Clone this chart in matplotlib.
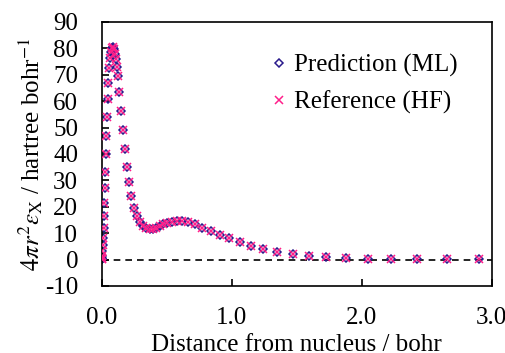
import matplotlib
matplotlib.use("Agg")
import matplotlib.pyplot as plt

plt.rcParams['font.family'] = ['Liberation Serif', 'DejaVu Serif']
plt.rcParams['mathtext.fontset'] = 'stix'
plt.rcParams['axes.unicode_minus'] = False

# radial distance (bohr) and 4*pi*r^2*eps_X (hartree/bohr)
distance = [0.0005, 0.001, 0.002, 0.003, 0.005, 0.008, 0.013, 0.016, 0.018, 0.020,
            0.025, 0.028, 0.033, 0.036, 0.041, 0.046, 0.051, 0.056, 0.064, 0.072,
            0.078, 0.085, 0.092, 0.100, 0.107, 0.115, 0.123, 0.133, 0.148, 0.161,
            0.176, 0.192, 0.207, 0.225, 0.247, 0.270, 0.292, 0.318, 0.343, 0.368,
            0.393, 0.418, 0.445, 0.475, 0.505, 0.538, 0.577, 0.620, 0.660, 0.716,
            0.775, 0.839, 0.908, 0.982, 1.061, 1.148, 1.240, 1.350, 1.468, 1.591,
            1.724, 1.877, 2.046, 2.225, 2.427, 2.652, 2.903]
ref_hf = [0.05, 0.2, 0.6, 1.4, 3.2, 5.5, 8.3, 12.0, 16.4, 21.4,
          27.0, 33.0, 39.8, 46.8, 53.9, 60.7, 66.9, 72.4, 76.3, 78.5,
          80.0, 80.6, 79.8, 78.0, 76.0, 73.0, 69.6, 63.3, 56.4, 49.1,
          41.9, 35.2, 29.2, 23.9, 19.5, 16.3, 14.1, 12.6, 11.9, 11.5,
          11.5, 11.9, 12.6, 13.3, 13.9, 14.3, 14.6, 14.6, 14.3, 13.3,
          12.0, 10.7, 9.3, 8.0, 6.6, 5.3, 4.0, 2.8, 2.0, 1.5,
          1.0, 0.5, 0.3, 0.15, 0.08, 0.04, 0.02]
pred_ml = [0.05, 0.2, 0.6, 1.4, 3.2, 5.5, 8.3, 12.0, 16.4, 21.4,
           27.0, 33.0, 39.8, 46.8, 53.9, 60.7, 66.9, 72.4, 76.3, 78.5,
           80.0, 80.6, 79.8, 78.0, 76.0, 73.0, 69.6, 63.3, 56.4, 49.1,
           41.9, 35.2, 29.2, 23.9, 19.5, 16.3, 14.1, 12.6, 11.9, 11.5,
           11.5, 11.9, 12.6, 13.3, 13.9, 14.3, 14.6, 14.6, 14.3, 13.3,
           12.0, 10.7, 9.3, 8.0, 6.6, 5.3, 4.0, 2.8, 2.0, 1.5,
           1.0, 0.5, 0.3, 0.15, 0.08, 0.04, 0.02]

fig = plt.figure(figsize=(5.06, 3.53), dpi=100)
ax = fig.add_axes([0.201, 0.19, 0.771, 0.748])

ax.axhline(0, color='black', linestyle=(0, (4, 3)), linewidth=1.2, zorder=1)
ax.plot(distance, pred_ml, linestyle='none', marker='D', markersize=4.5,
        markerfacecolor='none', markeredgecolor='#2a1a8c', markeredgewidth=1.1,
        label='Prediction (ML)', zorder=2)
ax.plot(distance, ref_hf, linestyle='none', marker='x', markersize=6,
        color='#ff1f8a', markeredgewidth=1.1, label='Reference (HF)', zorder=3)

ax.set_xlim(0, 3)
ax.set_ylim(-10, 90)
ax.set_xticks([0, 1, 2, 3])
ax.set_xticklabels(['0.0', '1.0', '2.0', '3.0'])
ax.set_yticks(range(-10, 91, 10))
ax.tick_params(direction='in', length=5, width=1.2, labelsize=18)
ax.tick_params(axis='x', pad=15.5)
ax.tick_params(axis='y', pad=17)
for s in ax.spines.values():
    s.set_linewidth(1.2)

ax.set_xlabel('Distance from nucleus / bohr', fontsize=18, labelpad=3)
ax.set_ylabel(r'$4\pi r^2\varepsilon_{\mathrm{X}}$ / hartree bohr$^{-1}$', fontsize=18, labelpad=0)

ax.legend(loc='upper right', frameon=False, fontsize=18, handletextpad=0.2,
          labelspacing=0.55, bbox_to_anchor=(0.969, 0.965), handlelength=0.8)

fig.savefig('out.png', dpi=100)
